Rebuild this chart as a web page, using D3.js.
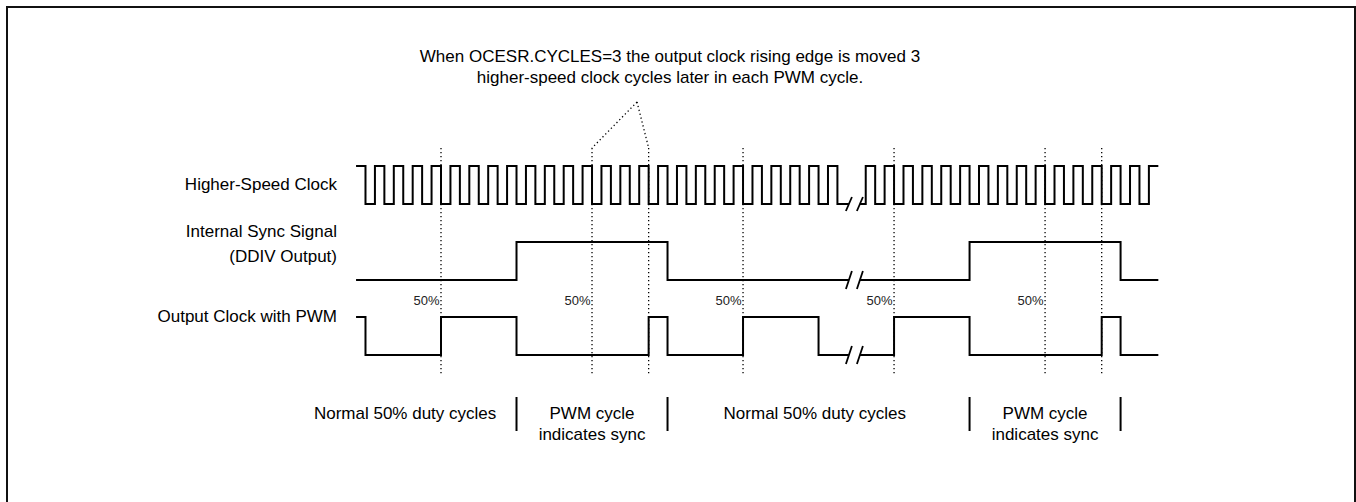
<!DOCTYPE html>
<html>
<head>
<meta charset="utf-8">
<script src="https://cdn.jsdelivr.net/npm/d3@7"></script>
<style>
	body { margin: 0; background: #fff; }
	svg { display: block; font-family: "Liberation Sans", Arial, sans-serif; }
</style>
</head>
<body>
<svg id="chart" width="1356" height="502"></svg>
<script>
"use strict";

// time is counted in higher-speed clock cycles, 0 = first marked edge
const t_start = -4.5;
const t_end = 38;

// clock: starts high, these are the edges (fall, rise, fall, ...)
const clock_edges = [
	-4, -3.5, -3, -2.5, -2, -1.5, -1, -0.5, 0, 0.5, 1, 1.5, 2, 2.5, 3, 3.5,
	4, 4.5, 5, 5.5, 6, 6.5, 7, 7.5, 8, 8.5, 9, 9.5, 10, 10.5, 11, 11.5,
	12, 12.5, 13, 13.5, 14, 14.5, 15, 15.5, 16, 16.5, 17, 17.5, 18, 18.5,
	19, 19.5, 20, 20.5, 21, 22.5, 23, 23.5, 24, 24.5, 25, 25.5, 26, 26.5,
	27, 27.5, 28, 28.5, 29, 29.5, 30, 30.5, 31, 31.5, 32, 32.5, 33, 33.5,
	34, 34.5, 35, 35.5, 36, 36.5, 37, 37.5,
];
// sync: starts low
const sync_edges = [4, 12, 28, 36];
// output clock: starts high
const out_edges = [-4, 0, 4, 11, 12, 16, 20, 24, 28, 35, 36];

const signals = [
	{ name: ['Higher-Speed Clock'], start: 1, edges: clock_edges },
	{ name: ['Internal Sync Signal', '(DDIV Output)'], start: 0, edges: sync_edges },
	{ name: ['Output Clock with PWM'], start: 1, edges: out_edges },
];

const marker_times = [0, 8, 11, 16, 24, 32, 35];
const pct_times = [0, 8, 16, 24, 32];
const pct_label = '50%';
const divider_times = [4, 12, 28, 36];
const break_time = 21.9;

const note_lines = [
	'When OCESR.CYCLES=3 the output clock rising edge is moved 3',
	'higher-speed clock cycles later in each PWM cycle.',
];
const note_target_times = [8, 11];

const phase_labels = [
	{ t: -1.9, lines: ['Normal 50% duty cycles'] },
	{ t: 8, lines: ['PWM cycle', 'indicates sync'] },
	{ t: 19.8, lines: ['Normal 50% duty cycles'] },
	{ t: 32, lines: ['PWM cycle', 'indicates sync'] },
];

(() => {
	const svg = d3.select('#chart');
	const x = d3.scaleLinear().domain([0, 35]).range([441, 1101.7]);
	// high / low y of each signal row
	const rows = [
		{ hi: 166, lo: 204, label_y: [190] },
		{ hi: 242, lo: 280, label_y: [237, 262] },
		{ hi: 317, lo: 355, label_y: [322] },
	];

	svg.append('rect')
		.attr('x', 7).attr('y', 7)
		.attr('width', 1348).attr('height', 540)
		.attr('fill', 'none')
		.attr('stroke', '#111')
		.attr('stroke-width', 2);

	// dotted markers
	const dotted = (sel) => sel
		.attr('fill', 'none')
		.attr('stroke', '#000')
		.attr('stroke-width', 1.3)
		.attr('stroke-dasharray', '1.3,2.7');
	svg.append('g').selectAll('line')
		.data(marker_times)
		.join('line')
		.attr('x1', (d) => x(d)).attr('x2', (d) => x(d))
		.attr('y1', 148).attr('y2', 374)
		.call(dotted);

	const apex = [637, 102];
	svg.append('g').selectAll('line')
		.data(note_target_times)
		.join('line')
		.attr('x1', apex[0]).attr('y1', apex[1])
		.attr('x2', (d) => x(d)).attr('y2', 148)
		.call(dotted);

	svg.append('g').selectAll('text')
		.data(note_lines)
		.join('text')
		.attr('x', 670)
		.attr('y', (d, i) => 62 + i * 21)
		.attr('text-anchor', 'middle')
		.attr('font-size', 17)
		.text((d) => d);

	// signal waveforms
	const line = d3.line().x((d) => x(d[0])).y((d) => d[1]);
	signals.forEach((sig, i) => {
		const row = rows[i];
		const lvl = (v) => (v ? row.hi : row.lo);
		let v = sig.start;
		const pts = [[t_start, lvl(v)]];
		sig.edges.forEach((t) => {
			pts.push([t, lvl(v)]);
			v = 1 - v;
			pts.push([t, lvl(v)]);
		});
		pts.push([t_end, lvl(v)]);
		svg.append('path')
			.attr('d', line(pts))
			.attr('fill', 'none')
			.attr('stroke', '#000')
			.attr('stroke-width', 2)
			.attr('stroke-linejoin', 'miter');

		// break marks
		const bx = x(break_time);
		const h = i === 0 ? 7 : 9;
		svg.append('rect')
			.attr('x', bx - 5.5).attr('y', row.lo - 3)
			.attr('width', 11).attr('height', 6)
			.attr('fill', '#fff');
		[-5.5, 5.5].forEach((dx) => {
			svg.append('line')
				.attr('x1', bx + dx - 3).attr('y1', row.lo + h)
				.attr('x2', bx + dx + 3).attr('y2', row.lo - h)
				.attr('stroke', '#000')
				.attr('stroke-width', 1.8);
		});

		svg.append('g').selectAll('text')
			.data(sig.name)
			.join('text')
			.attr('x', 337)
			.attr('y', (d, k) => row.label_y[k])
			.attr('text-anchor', 'end')
			.attr('font-size', 17)
			.text((d) => d);
	});

	svg.append('g').selectAll('text')
		.data(pct_times)
		.join('text')
		.attr('x', (d) => x(d) - 1.5)
		.attr('y', 305)
		.attr('text-anchor', 'end')
		.attr('font-size', 13)
		.attr('fill', '#222')
		.text(pct_label);

	svg.append('g').selectAll('line')
		.data(divider_times)
		.join('line')
		.attr('x1', (d) => x(d)).attr('x2', (d) => x(d))
		.attr('y1', 397).attr('y2', 431)
		.attr('stroke', '#000')
		.attr('stroke-width', 2);

	phase_labels.forEach((p) => {
		svg.append('g').selectAll('text')
			.data(p.lines)
			.join('text')
			.attr('x', x(p.t))
			.attr('y', (d, i) => 419 + i * 21)
			.attr('text-anchor', 'middle')
			.attr('font-size', 17)
			.text((d) => d);
	});
})();
</script>
</body>
</html>
